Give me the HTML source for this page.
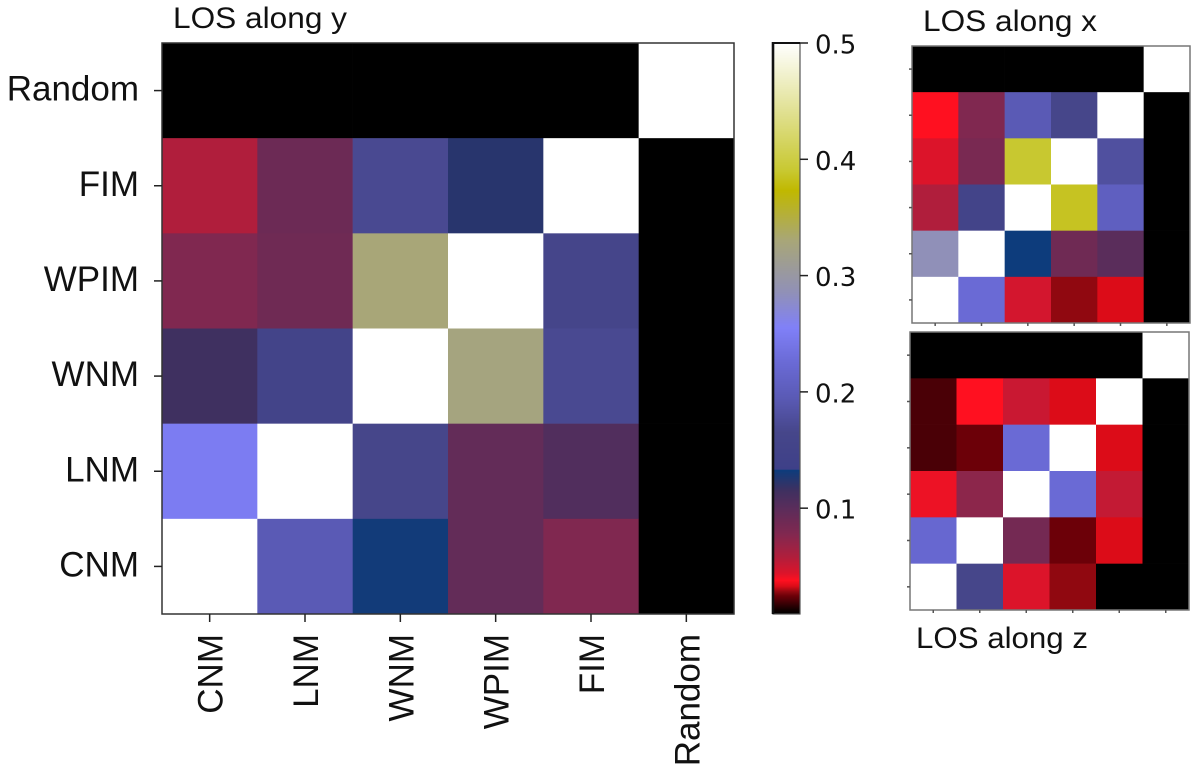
<!DOCTYPE html>
<html lang="en">
<head>
<meta charset="utf-8">
<title>LOS correlation matrices</title>
<style>
html,body{margin:0;padding:0;background:#fff;width:1200px;height:775px;overflow:hidden}
svg{display:block}
text{fill:#111;font-family:"Liberation Sans",Arial,sans-serif}
</style>
</head>
<body>
<svg id="fig" xmlns="http://www.w3.org/2000/svg" width="1200" height="775" viewBox="0 0 1200 775">
<text x="173" y="28" font-size="30" textLength="174" lengthAdjust="spacingAndGlyphs">LOS along y</text>
<text x="923" y="31" font-size="30" textLength="174" lengthAdjust="spacingAndGlyphs">LOS along x</text>
<text x="916" y="648" font-size="30" textLength="172" lengthAdjust="spacingAndGlyphs">LOS along z</text>
</svg>
<script>
const categories = ["CNM", "LNM", "WNM", "WPIM", "FIM", "Random"];
const colorbarTicks = [0.1, 0.2, 0.3, 0.4, 0.5];
const colorbarMin = 0.009;
const colorbarMax = 0.5;
/* rows run top to bottom: Random, FIM, WPIM, WNM, LNM, CNM */
const valuesLosY = [
  [0.009, 0.009, 0.009, 0.009, 0.009, 0.5],
  [0.058, 0.09, 0.17, 0.123, 0.5, 0.009],
  [0.078, 0.088, 0.33, 0.5, 0.16, 0.009],
  [0.115, 0.155, 0.5, 0.325, 0.17, 0.009],
  [0.25, 0.5, 0.165, 0.095, 0.105, 0.009],
  [0.5, 0.195, 0.131, 0.095, 0.078, 0.009]
];
const valuesLosX = [
  [0.009, 0.009, 0.009, 0.009, 0.009, 0.5],
  [0.038, 0.078, 0.195, 0.165, 0.5, 0.009],
  [0.044, 0.082, 0.39, 0.5, 0.18, 0.009],
  [0.058, 0.155, 0.5, 0.385, 0.205, 0.009],
  [0.285, 0.5, 0.1327, 0.088, 0.1, 0.009],
  [0.5, 0.225, 0.047, 0.028, 0.033, 0.009]
];
const valuesLosZ = [
  [0.009, 0.009, 0.009, 0.009, 0.009, 0.5],
  [0.02, 0.038, 0.05, 0.033, 0.5, 0.009],
  [0.02, 0.0245, 0.225, 0.5, 0.033, 0.009],
  [0.041, 0.073, 0.5, 0.225, 0.052, 0.009],
  [0.22, 0.5, 0.085, 0.0245, 0.033, 0.009],
  [0.5, 0.165, 0.044, 0.028, 0.009, 0.009]
];
const cmapValues = [0.009, 0.0125, 0.02, 0.0245, 0.028, 0.033, 0.038, 0.044, 0.058, 0.078, 0.09, 0.1, 0.115, 0.1327, 0.1335, 0.165, 0.195, 0.225, 0.255, 0.285, 0.33, 0.373, 0.39, 0.44, 0.5];
const cmapColors = ["#000000", "#100000", "#4a0006", "#6c0008", "#900810", "#dc0c18", "#ff1020", "#dc142a", "#b01e3c", "#802850", "#6c2a55", "#5a2d5b", "#3f3060", "#0d3c7c", "#3e4088", "#46468a", "#5a5ab5", "#6a6ad5", "#8080f8", "#9090b8", "#a8a678", "#c0b800", "#c8c830", "#e0e090", "#ffffff"];

function hexToRgb(h) {
  return [1, 3, 5].map(function (i) { return parseInt(h.substr(i, 2), 16); });
}
function colorFor(v) {
  if (v <= cmapValues[0]) return cmapColors[0];
  for (let i = 1; i < cmapValues.length; i++) {
    if (v <= cmapValues[i]) {
      const t = (v - cmapValues[i - 1]) / (cmapValues[i] - cmapValues[i - 1]);
      const a = hexToRgb(cmapColors[i - 1]);
      const b = hexToRgb(cmapColors[i]);
      const c = a.map(function (x, k) { return Math.round(x + (b[k] - x) * t); });
      return "rgb(" + c.join(",") + ")";
    }
  }
  return cmapColors[cmapColors.length - 1];
}
const svg = document.getElementById("fig");
function make(tag, attrs) {
  const el = document.createElementNS("http://www.w3.org/2000/svg", tag);
  Object.keys(attrs).forEach(function (k) { el.setAttribute(k, attrs[k]); });
  svg.appendChild(el);
  return el;
}
function drawHeatmap(values, box, prefix, frameColor, tickLen, tickColor) {
  const n = categories.length;
  const xAt = function (i) { return box.x + (box.w * i) / n; };
  const yAt = function (i) { return box.y + (box.h * i) / n; };
  values.forEach(function (row, r) {
    row.forEach(function (v, c) {
      const cell = make("rect", {x: xAt(c), y: yAt(r), width: box.w / n + 0.3, height: box.h / n + 0.3, fill: colorFor(v)});
      
      
    });
  });
  const frame = make("rect", {x: box.x, y: box.y, width: box.w, height: box.h, fill: "none", stroke: frameColor, "stroke-width": 1.5});
  
  
  for (let i = 0; i < n; i++) {
    const cx = xAt(i + 0.5);
    const cy = yAt(i + 0.5);
    const xt = make("line", {x1: cx, x2: cx, y1: box.y + box.h, y2: box.y + box.h + tickLen, stroke: tickColor, "stroke-width": 1.5});
    
    
    const yt = make("line", {x1: box.x - tickLen, x2: box.x, y1: cy, y2: cy, stroke: tickColor, "stroke-width": 1.5});
    
    
  }
  return {xAt: xAt, yAt: yAt};
}
const mainBox = {x: 162, y: 43, w: 572, h: 571};
const mainAxes = drawHeatmap(valuesLosY, mainBox, "los-y", "#333", 8, "#222");
drawHeatmap(valuesLosX, {x: 912, y: 46, w: 278, h: 277}, "los-x", "#777", 3, "#555");
drawHeatmap(valuesLosZ, {x: 910, y: 332, w: 279, h: 278}, "los-z", "#777", 3, "#555");

categories.forEach(function (name, i) {
  const cx = mainAxes.xAt(i + 0.5);
  const xl = make("text", {x: 0, y: 0, "font-size": 35, "text-anchor": "end", transform: "translate(" + (cx + 13) + ",634) rotate(-90)"});
  xl.textContent = name;
  
  
  const yl = make("text", {x: 139, y: mainAxes.yAt(categories.length - i - 0.5) + 10, "font-size": 35, "text-anchor": "end"});
  yl.textContent = name;
  
  
});

/* colorbar */
const barBox = {x: 773, y: 43, w: 27, h: 571};
function barY(v) {
  return barBox.y + (barBox.h * (colorbarMax - v)) / (colorbarMax - colorbarMin);
}
for (let p = 0; p < barBox.h; p++) {
  const v = colorbarMax - ((p + 0.5) / barBox.h) * (colorbarMax - colorbarMin);
  const band = make("rect", {x: barBox.x, y: barBox.y + p, width: barBox.w, height: 1.2, fill: colorFor(v)});
  
  
}
const barFrame = make("rect", {x: barBox.x, y: barBox.y, width: barBox.w, height: barBox.h, fill: "none", stroke: "#555", "stroke-width": 1.2});


const barLeft = make("line", {x1: barBox.x, x2: barBox.x, y1: barBox.y - 1, y2: barBox.y + barBox.h, stroke: "#111", "stroke-width": 2.6});


const barTop = make("line", {x1: barBox.x, x2: barBox.x + barBox.w, y1: barBox.y, y2: barBox.y, stroke: "#111", "stroke-width": 2});


colorbarTicks.forEach(function (v) {
  const y = barY(v);
  const t = make("line", {x1: barBox.x + barBox.w, x2: barBox.x + barBox.w + 8, y1: y, y2: y, stroke: "#222", "stroke-width": 1.5});
  
  
  const l = make("text", {x: 815, y: y + 10.5, "font-size": 26});
  l.style.fontFamily = '"DejaVu Sans", sans-serif';
  l.textContent = v.toFixed(1);
  
  
});
</script>
</body>
</html>
